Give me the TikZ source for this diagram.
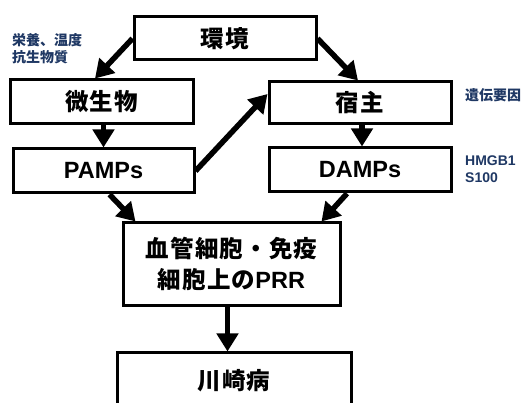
\documentclass[tikz,border=0pt]{standalone}
\usepackage{fontspec}
\setmainfont{Liberation Sans}
\newfontfamily\jp{Noto Sans CJK JP}
\newfontfamily\jpw{Noto Sans CJK JP}[LetterSpace=5]
\usetikzlibrary{arrows.meta}
\definecolor{navy}{RGB}{31,56,100}
\begin{document}
\begin{tikzpicture}[x=1pt,y=-1pt,
  box/.style={draw=black,line width=3pt,fill=white,inner sep=0pt,align=center,font=\bfseries\fontsize{23.5}{31}\selectfont},
  arr/.style={line width=5.5pt,-{Triangle[width=21pt,length=18pt]}},
  note/.style={text=navy,font=\bfseries\fontsize{14}{17}\selectfont,align=left,anchor=west,inner sep=0pt}]
\clip (0,0) rectangle (523,403);
\fill[white] (0,0) rectangle (523,403);
\node[box,minimum width=182pt,minimum height=43pt] (env) at (225,38.5) {\jpw 環境};
\node[box,minimum width=183pt,minimum height=44pt] (mic) at (101.5,102) {\jpw 微生物};
\node[box,minimum width=182pt,minimum height=42pt] (hst) at (360,103) {\jpw 宿主};
\node[box,minimum width=181pt,minimum height=44pt] (pamps) at (103.5,171) {PAMPs};
\node[box,minimum width=182pt,minimum height=44pt] (damps) at (360,170) {DAMPs};
\node[box,minimum width=217pt,minimum height=83pt] (prr) at (231.5,264.5) {{\jpw 血管細胞・免疫}\\{\jpw 細胞上の}PRR};
\node[box,minimum width=234pt,minimum height=60pt] (kaw) at (234,383) {};
\node[font=\bfseries\fontsize{23.5}{31}\selectfont,inner sep=0pt] (kawt) at (234,381) {\jpw 川崎病};
\node[note] (n1) at (12,48.5) {{\jp 栄養、温度}\\{\jp 抗生物質}};
\node[note] (n2) at (465,95) {\jp 遺伝要因};
\node[note] (n3) at (465,169.5) {HMGB1\\S100};
\draw[arr] (env.west) -- ([xshift=-6.5pt]mic.north);
\draw[arr] (env.east) -- ([xshift=-2pt]hst.north);
\draw[arr] ([xshift=2pt]mic.south) -- ([xshift=2pt]mic.south |- pamps.north);
\draw[arr] ([xshift=2pt]hst.south) -- ([xshift=2pt]hst.south |- damps.north);
\draw[arr] (pamps.east) -- ([yshift=9pt]hst.west);
\draw[arr] ([xshift=6pt]pamps.south) -- ([xshift=14pt]prr.north west);
\draw[arr] ([xshift=-13pt]damps.south) -- ([xshift=-20pt]prr.north east);
\draw[arr] ([xshift=-4pt]prr.south) -- ([xshift=-4pt]prr.south |- kaw.north);
\end{tikzpicture}
\end{document}
